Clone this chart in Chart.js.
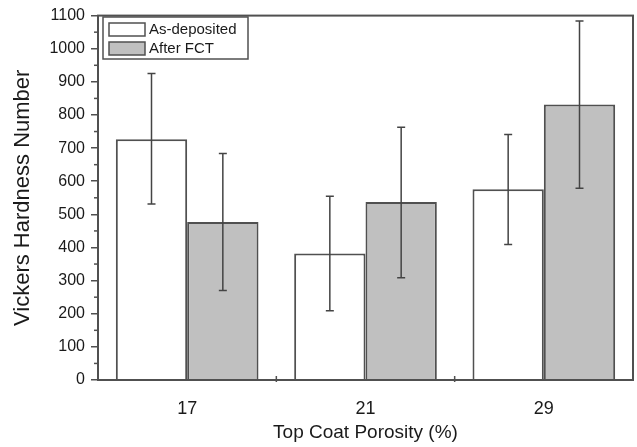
<!DOCTYPE html>
<html>
<head>
<meta charset="utf-8">
<script src="https://cdn.jsdelivr.net/npm/chart.js@4"></script>
<style>
  html, body { margin: 0; padding: 0; background: #fff; }
  #wrap { width: 637px; height: 447px; }
</style>
</head>
<body>
<div id="wrap"><canvas id="myChart" width="637" height="447"></canvas></div>
<script>
// categories and values
var porosidades = ['17', '21', '29'];
var asDeposited = [727, 382, 576];
var asDepLow = [531, 209, 409];
var asDepHigh = [925, 555, 741];
var afterFct = [477, 537, 832];
var fctLow = [270, 309, 579];
var fctHigh = [684, 763, 1084];
var yTicks = [0, 100, 200, 300, 400, 500, 600, 700, 800, 900, 1000, 1100];

var corLinha = '#505050';
var fonte = 'Liberation Sans, Arial, sans-serif';

// error bars, frame, minor ticks and legend box
var extras = {
  id: 'extras',
  afterDatasetsDraw: function(chart) {
    var ctx = chart.ctx;
    var y = chart.scales.y;
    var x = chart.scales.x;
    var area = chart.chartArea;
    var faixas = [[asDepLow, asDepHigh], [fctLow, fctHigh]];

    ctx.save();
    ctx.strokeStyle = '#444';
    ctx.lineWidth = 1.5;
    faixas.forEach(function(f, d) {
      var meta = chart.getDatasetMeta(d);
      meta.data.forEach(function(bar, i) {
        var yl = y.getPixelForValue(f[0][i]);
        var yh = y.getPixelForValue(f[1][i]);
        ctx.beginPath();
        ctx.moveTo(bar.x, yl); ctx.lineTo(bar.x, yh);
        ctx.moveTo(bar.x - 4, yl); ctx.lineTo(bar.x + 4, yl);
        ctx.moveTo(bar.x - 4, yh); ctx.lineTo(bar.x + 4, yh);
        ctx.stroke();
      });
    });

    // frame
    ctx.strokeStyle = corLinha;
    ctx.lineWidth = 2;
    ctx.strokeRect(area.left, area.top, area.right - area.left, area.bottom - area.top);

    // minor y ticks
    ctx.lineWidth = 1.5;
    for (var v = 50; v < 1100; v += 100) {
      var py = y.getPixelForValue(v);
      ctx.beginPath();
      ctx.moveTo(area.left - 4, py); ctx.lineTo(area.left, py);
      ctx.stroke();
    }
    // x ticks at category boundaries
    for (var i = 1; i < porosidades.length; i++) {
      var px = (x.getPixelForValue(i - 1) + x.getPixelForValue(i)) / 2;
      ctx.beginPath();
      ctx.moveTo(px, area.bottom - 4); ctx.lineTo(px, area.bottom + 2);
      ctx.stroke();
    }

    // legend
    ctx.fillStyle = '#fff';
    ctx.fillRect(103, 17, 145, 42);
    ctx.strokeStyle = corLinha;
    ctx.lineWidth = 1.5;
    ctx.strokeRect(103, 17, 145, 42);
    ctx.font = '15px ' + fonte;
    ctx.textBaseline = 'middle';
    chart.data.datasets.forEach(function(ds, k) {
      var cy = 29.5 + k * 19;
      ctx.fillStyle = ds.backgroundColor;
      ctx.fillRect(109, cy - 6.5, 36, 13);
      ctx.strokeRect(109, cy - 6.5, 36, 13);
      ctx.fillStyle = '#1a1a1a';
      ctx.fillText(ds.label, 149, cy + 0.5);
    });
    ctx.restore();
  }
};

function desenhaChart() {
  var ctxChart = document.getElementById('myChart').getContext('2d');
  new Chart(ctxChart, {
    type: 'bar',
    data: {
      labels: porosidades,
      datasets: [{
        label: 'As-deposited',
        data: asDeposited,
        backgroundColor: '#ffffff',
        borderColor: corLinha,
        borderWidth: 2
      }, {
        label: 'After FCT',
        data: afterFct,
        backgroundColor: '#c0c0c0',
        borderColor: corLinha,
        borderWidth: 2
      }]
    },
    options: {
      responsive: false,
      animation: false,
      layout: { padding: { left: 0, right: 4, top: 14, bottom: 0 } },
      datasets: { bar: { categoryPercentage: 0.8, barPercentage: 1.0 } },
      plugins: { legend: { display: false }, tooltip: { enabled: false } },
      scales: {
        x: {
          grid: { display: false },
          border: { display: false },
          ticks: { color: '#1a1a1a', font: { family: fonte, size: 18 }, padding: 10 },
          title: {
            display: true, text: 'Top Coat Porosity (%)', color: '#1a1a1a',
            font: { family: fonte, size: 19 }, padding: { top: 0, bottom: 3 }
          },
          afterFit: function(s) { s.height = 67; }
        },
        y: {
          min: 0, max: 1100,
          afterBuildTicks: function(s) { s.ticks = yTicks.map(function(v) { return { value: v }; }); },
          grid: { drawOnChartArea: false, drawTicks: true, tickLength: 7, color: corLinha, lineWidth: 1.5 },
          border: { display: false },
          ticks: {
            color: '#1a1a1a', font: { family: fonte, size: 16 }, padding: 6,
            callback: function(v) { return String(v); }
          },
          title: {
            display: true, text: 'Vickers Hardness Number', color: '#1a1a1a',
            font: { family: fonte, size: 22 }, padding: { top: 10, bottom: 0 }
          },
          afterFit: function(s) { s.width = 98; }
        }
      }
    },
    plugins: [extras]
  });
}

desenhaChart();
</script>
</body>
</html>
